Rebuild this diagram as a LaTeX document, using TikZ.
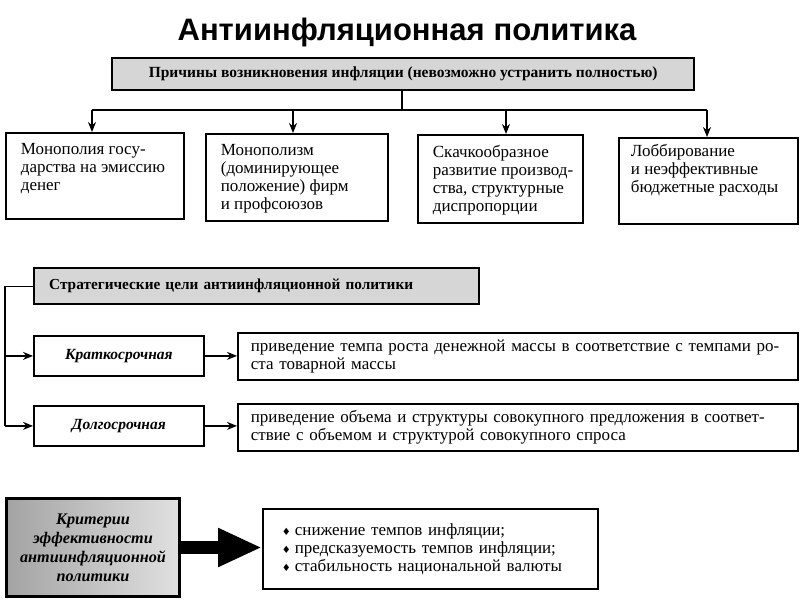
\documentclass[tikz,border=0pt]{standalone}
\usepackage{fontspec}
\setmainfont{Liberation Serif}
\newfontfamily\titlefont{Liberation Sans}
\newfontfamily\symfont{DejaVu Sans}
\usetikzlibrary{arrows.meta}
\newcommand\Lne[1]{\mbox{#1}}
\newcommand\tbx[4]{\parbox[c][#1][t]{#2}{\raggedright\rule{0pt}{#3}#4}}
\newcommand\bul{{\symfont\fontsize{10}{10}\selectfont ♦}\hspace{4pt}}
\begin{document}
\begin{tikzpicture}[x=1pt,y=-1pt,
 box/.style={draw, line width=1.8pt, rectangle, anchor=north west, inner xsep=15pt, inner ysep=0pt, align=left, font=\fontsize{17}{18}\selectfont},
 hdr/.style={draw, line width=2.4pt, fill=black!16, rectangle, anchor=north west, inner xsep=15pt, inner ysep=0pt},
 goal/.style={draw, line width=1.8pt, rectangle, anchor=north west, minimum width=170pt, minimum height=40pt, inner sep=0pt, font=\bfseries\itshape\fontsize{15.5}{18}\selectfont},
 arr/.style={line width=1.2pt, -{Stealth[length=10pt,width=8pt]}},
 ln/.style={line width=1.2pt},
 fat/.style={line width=13pt, -{Triangle[length=44pt,width=36pt]}}
]
\useasboundingbox (0,0) rectangle (800,600);

\node[font=\titlefont\bfseries\fontsize{31}{36}\selectfont] (title) at (407,32) {Антиинфляционная\hspace{9pt}политика};

% causes
\node[hdr, minimum width=582pt, minimum height=32pt, align=center, font=\bfseries\fontsize{15.5}{18}\selectfont] (top) at (111,57) {Причины возникновения инфляции (невозможно устранить полностью)};

\node[box] (b1) at (5,132) {\tbx{86pt}{148pt}{22pt}{\Lne{Монополия госу-}\\\Lne{дарства на эмиссию}\\\Lne{денег}}};
\node[box] (b2) at (205,133) {\tbx{87pt}{152pt}{22pt}{\Lne{Монополизм}\\\Lne{(доминирующее}\\\Lne{положение) фирм}\\\Lne{и профсоюзов}}};
\node[box] (b3) at (417,134) {\tbx{88pt}{135pt}{23pt}{\Lne{Скачкообразное}\\\Lne{развитие производ-}\\\Lne{ства, структурные}\\\Lne{диспропорции}}};
\node[box, inner xsep=12pt] (b4) at (618,137) {\tbx{86pt}{155pt}{19pt}{\Lne{Лоббирование}\\\Lne{и неэффективные}\\\Lne{бюджетные расходы}}};

\coordinate (bus) at (402,110);
\coordinate (a1) at (92,110);
\coordinate (a2) at (293,110);
\coordinate (a3) at (506,110);
\coordinate (a4) at (707,110);
\draw[ln] (bus |- top.south) -- (bus);
\draw[ln] (a1) -- (a4);
\draw[arr] (a1) -- (a1 |- b1.north);
\draw[arr] (a2) -- (a2 |- b2.north);
\draw[arr] (a3) -- (a3 |- b3.north);
\draw[arr] (a4) -- (a4 |- b4.north);

% goals
\node[hdr, text width=415pt, minimum height=36pt, align=left, font=\bfseries\fontsize{15.3}{18}\selectfont] (strat) at (33,267) {Стратегические цели антиинфляционной политики};
\node[goal] (kr) at (33,335) {Краткосрочная};
\node[goal] (dl) at (33,405) {Долгосрочная};
\node[box, inner xsep=13pt, text width=534pt, minimum height=47pt] (r1) at (237,332) {\Lne{приведение темпа роста денежной массы в соответствие с темпами ро-}\\\Lne{ста товарной массы}};
\node[box, inner xsep=13pt, text width=534pt, minimum height=47pt] (r2) at (237,403) {\Lne{приведение объема и структуры совокупного предложения в соответ-}\\\Lne{ствие с объемом и структурой совокупного спроса}};

\coordinate (lb) at (5,425);
\draw[ln] (strat.west) -| (lb |- dl.west);
\draw[arr] (lb |- kr.west) -- (kr.west);
\draw[arr] (lb |- dl.west) -- (dl.west);
\draw[arr] (kr.east) -- (kr.east -| r1.west);
\draw[arr] (dl.east) -- (dl.east -| r2.west);

% criteria
\node[draw, line width=3pt, anchor=north west, minimum width=173pt, minimum height=98pt, inner sep=0pt, left color=black!36, right color=black!12, align=center, font=\bfseries\itshape\fontsize{16.2}{19}\selectfont] (krit) at (5,497) {Критерии\\эффективности\\антиинфляционной\\политики};
\node[box, inner xsep=19pt, text width=297pt, minimum height=80pt] (list) at (262,508) {\Lne{\bul снижение темпов инфляции;}\\\Lne{\bul предсказуемость темпов инфляции;}\\\Lne{\bul стабильность национальной валюты}};
\draw[fat] (krit.east) -- (krit.east -| list.west);
\end{tikzpicture}
\end{document}
